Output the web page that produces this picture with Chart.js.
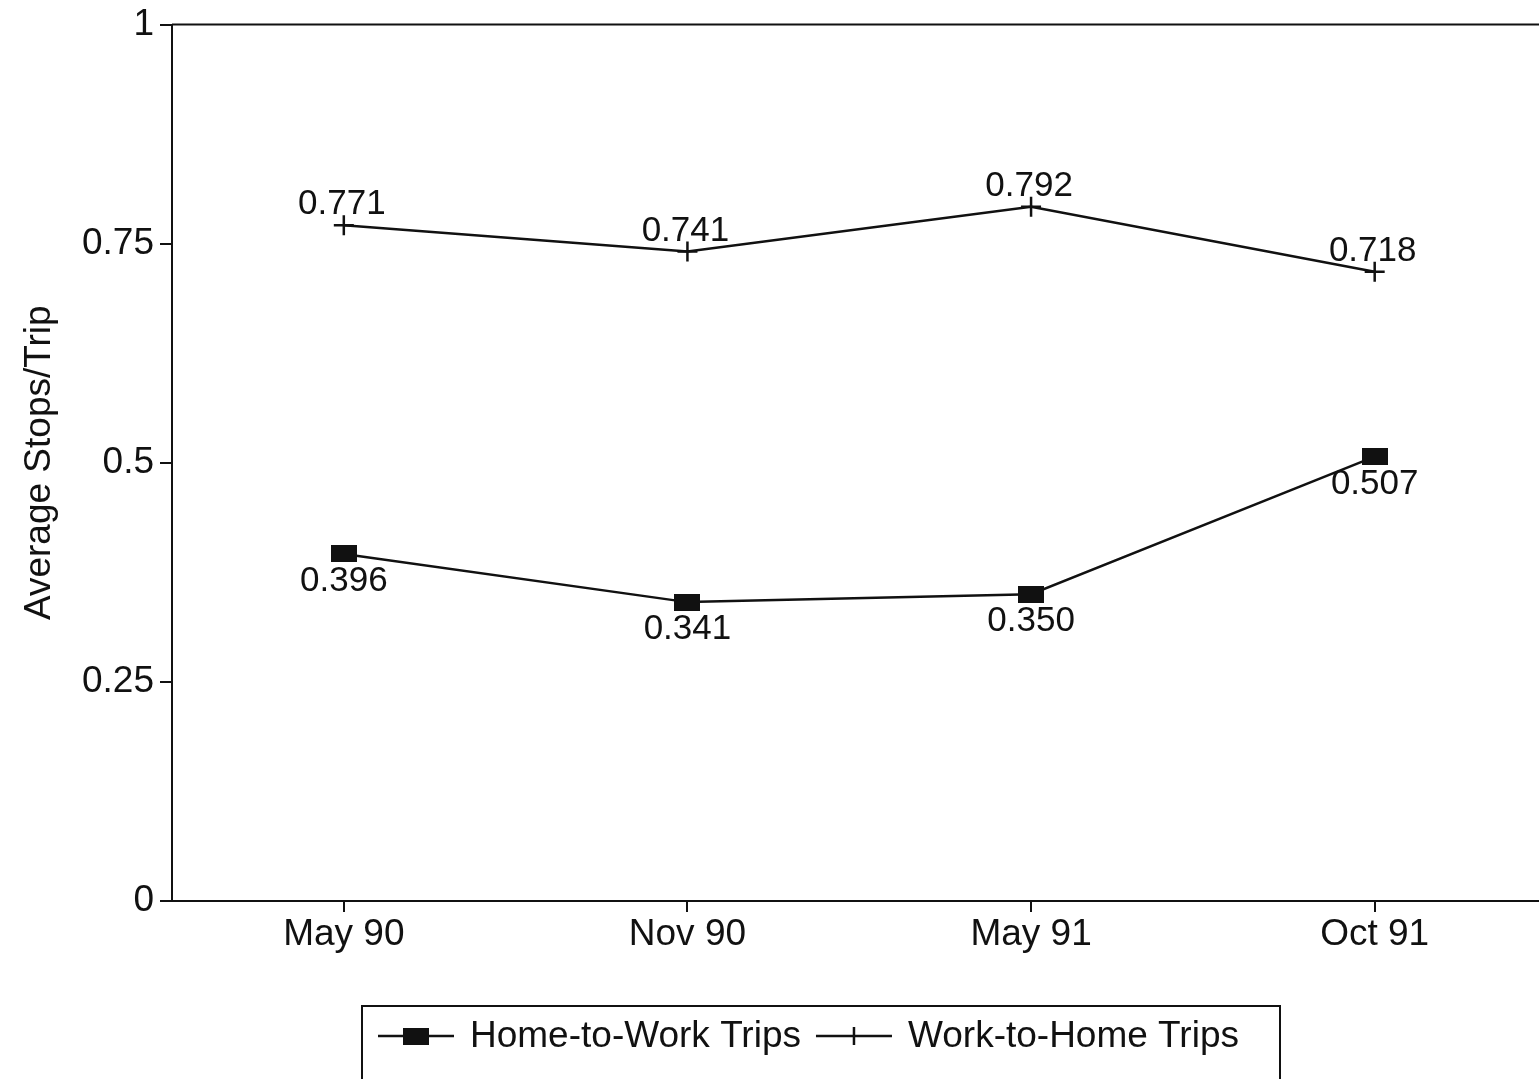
<!DOCTYPE html>
<html>
<head>
<meta charset="utf-8">
<script src="https://cdn.jsdelivr.net/npm/chart.js@4.4.1/dist/chart.umd.min.js"></script>
<style>
  html, body { margin: 0; padding: 0; overflow: hidden; background: #fff; }
  #wrap { width: 1559px; height: 1079px; }
  canvas { display: block; }
</style>
</head>
<body>
<!-- el lienzo es algo más ancho que la ventana: el original está recortado a la derecha -->
<div id="wrap"><canvas id="stopsChart" width="1559" height="1079" style="width:1559px;height:1079px"></canvas></div>
<script>
// datos
const periods = ['May 90', 'Nov 90', 'May 91', 'Oct 91'];
const homeToWork = [0.396, 0.341, 0.350, 0.507];
const workToHome = [0.771, 0.741, 0.792, 0.718];
const seriesNames = ['Home-to-Work Trips', 'Work-to-Home Trips'];
const yTickValues = [0, 0.25, 0.5, 0.75, 1];
const yTickLabels = ['0', '0.25', '0.5', '0.75', '1'];

const INK = '#111';
const FONT = '"Liberation Sans", Arial, Helvetica, sans-serif';

// marcador rectangular negro (más ancho que alto)
const rectMarker = document.createElement('canvas');
rectMarker.width = 26;
rectMarker.height = 17;
const rctx = rectMarker.getContext('2d');
rctx.fillStyle = INK;
rctx.fillRect(0, 0, 26, 17);

// marco superior / derecho del área
const framePlugin = {
  id: 'frame',
  beforeDatasetsDraw(chart) {
    const { ctx, chartArea: a } = chart;
    ctx.save();
    ctx.strokeStyle = INK;
    ctx.lineWidth = 2;
    ctx.beginPath();
    ctx.moveTo(a.left, a.top);
    ctx.lineTo(a.right, a.top);
    ctx.lineTo(a.right, a.bottom);
    ctx.stroke();
    ctx.restore();
  }
};

// etiquetas de valor junto a cada punto
const valueLabels = {
  id: 'valueLabels',
  afterDatasetsDraw(chart) {
    const { ctx } = chart;
    ctx.save();
    ctx.fillStyle = INK;
    ctx.font = '35px ' + FONT;
    ctx.textAlign = 'center';
    chart.data.datasets.forEach((ds, i) => {
      const meta = chart.getDatasetMeta(i);
      meta.data.forEach((pt, j) => {
        const txt = ds.data[j].toFixed(3);
        if (ds.labelBelow) {
          ctx.textBaseline = 'top';
          ctx.fillText(txt, pt.x, pt.y + 10);
        } else {
          ctx.textBaseline = 'alphabetic';
          ctx.fillText(txt, pt.x - 2, pt.y - 11);
        }
      });
    });
    ctx.restore();
  }
};

// leyenda con recuadro, debajo del gráfico
const boxLegend = {
  id: 'boxLegend',
  afterDraw(chart) {
    const { ctx } = chart;
    const top = 1006, left = 362, right = 1280;
    ctx.save();
    ctx.strokeStyle = INK;
    ctx.lineWidth = 2;
    ctx.beginPath();
    ctx.moveTo(left, 1100);
    ctx.lineTo(left, top);
    ctx.lineTo(right, top);
    ctx.lineTo(right, 1100);
    ctx.stroke();

    ctx.font = '37px ' + FONT;
    ctx.textBaseline = 'middle';
    ctx.textAlign = 'left';
    const cy = 1036;
    let x = 378;
    chart.data.datasets.forEach((ds) => {
      ctx.strokeStyle = INK;
      ctx.lineWidth = 2.5;
      ctx.beginPath();
      ctx.moveTo(x, cy);
      ctx.lineTo(x + 76, cy);
      ctx.stroke();
      const mx = x + 38;
      if (ds.pointStyle === 'cross') {
        ctx.beginPath();
        ctx.moveTo(mx, cy - 9);
        ctx.lineTo(mx, cy + 9);
        ctx.stroke();
      } else {
        ctx.fillStyle = INK;
        ctx.fillRect(mx - 13, cy - 8, 26, 17);
      }
      ctx.fillStyle = INK;
      ctx.fillText(ds.label, x + 92, cy + 1);
      x += 92 + ctx.measureText(ds.label).width + 15;
    });
    ctx.restore();
  }
};

new Chart(document.getElementById('stopsChart'), {
  type: 'line',
  data: {
    labels: periods,
    datasets: [
      {
        label: seriesNames[0],
        data: homeToWork,
        borderColor: INK,
        borderWidth: 2.5,
        pointStyle: rectMarker,
        pointBackgroundColor: INK,
        tension: 0,
        labelBelow: true
      },
      {
        label: seriesNames[1],
        data: workToHome,
        borderColor: INK,
        borderWidth: 2.5,
        pointStyle: 'cross',
        pointRadius: 10,
        pointBorderWidth: 2.5,
        pointBorderColor: INK,
        tension: 0,
        labelBelow: false
      }
    ]
  },
  options: {
    responsive: false,
    animation: false,
    devicePixelRatio: 1,
    layout: { padding: { top: 20, left: 0, right: 0, bottom: 118 } },
    plugins: {
      legend: { display: false },
      tooltip: { enabled: false }
    },
    scales: {
      x: {
        type: 'category',
        offset: true,
        grid: {
          drawOnChartArea: false,
          drawTicks: true,
          tickLength: 11,
          lineWidth: 2,
          color: INK,
          offset: false
        },
        border: { display: true, color: INK, width: 2 },
        ticks: {
          color: INK,
          font: { family: FONT, size: 37, lineHeight: 1 },
          padding: 4,
          maxRotation: 0,
          autoSkip: false
        },
        afterFit: (s) => { s.height = 60; }
      },
      y: {
        min: 0,
        max: 1,
        afterBuildTicks: (s) => { s.ticks = yTickValues.map(v => ({ value: v })); },
        grid: {
          drawOnChartArea: false,
          drawTicks: true,
          tickLength: 12,
          lineWidth: 2,
          color: INK
        },
        border: { display: true, color: INK, width: 2 },
        ticks: {
          color: INK,
          font: { family: FONT, size: 37, lineHeight: 1 },
          padding: 6,
          callback: (v) => yTickLabels[yTickValues.indexOf(v)]
        },
        title: {
          display: true,
          text: 'Average Stops/Trip',
          color: INK,
          font: { family: FONT, size: 37 },
          padding: { top: 18, bottom: 0 }
        },
        afterFit: (s) => { s.width = 172; }
      }
    }
  },
  plugins: [framePlugin, valueLabels, boxLegend]
});
</script>
</body>
</html>
